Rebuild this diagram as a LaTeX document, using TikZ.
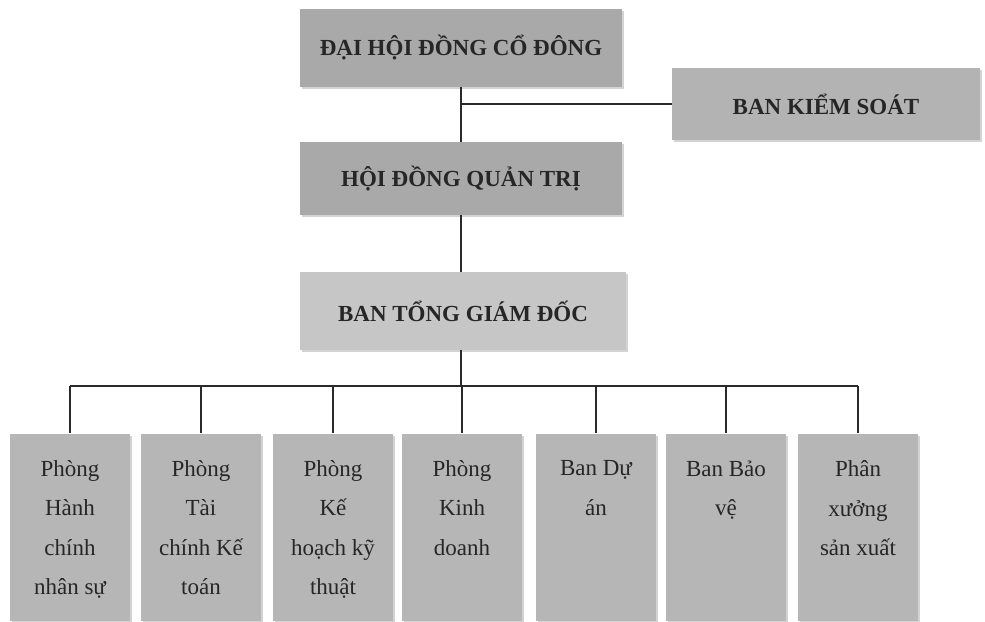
\documentclass[tikz,border=0pt]{standalone}
\usepackage{fontspec}
\setmainfont{Liberation Serif}
\usetikzlibrary{shadows}
\definecolor{topgray}{HTML}{A9A9A9}
\definecolor{midgray}{HTML}{B3B3B3}
\definecolor{lightgray2}{HTML}{C6C6C6}
\definecolor{botgray}{HTML}{B6B6B6}
\definecolor{linecol}{HTML}{2A2A2A}
\tikzset{
  boxbase/.style={rectangle, inner sep=0pt, draw=none,
    drop shadow={shadow xshift=2pt, shadow yshift=-2pt, opacity=0.35, fill=gray}},
  bigbox/.style={boxbase, font=\fontsize{23}{27}\selectfont\bfseries, text=black!85},
  smallbox/.style={boxbase, fill=botgray, minimum width=120pt, minimum height=187pt},
  smalltext/.style={anchor=north, inner sep=0pt, align=center,
    font=\fontsize{23}{39.5}\selectfont, text=black!85},
  conn/.style={draw=linecol, line width=1.4pt}
}
\begin{document}
\begin{tikzpicture}[x=1pt, y=-1pt]
\useasboundingbox (0,0) rectangle (985,621);
% top boxes
\node[bigbox, fill=topgray, minimum width=322pt, minimum height=78pt] (dh) at (461,48) {ĐẠI HỘI ĐỒNG CỔ ĐÔNG};
\node[bigbox, fill=midgray, minimum width=308pt, minimum height=72pt] (bks) at (826,104) {BAN KIỂM SOÁT};
\node[bigbox, fill=topgray, minimum width=322pt, minimum height=73pt] (hd) at (461,178.5) {HỘI ĐỒNG QUẢN TRỊ};
\node[bigbox, fill=lightgray2, minimum width=326pt, minimum height=78pt] (bt) at (463,311) {BAN TỔNG GIÁM ĐỐC};
% bottom boxes
\node[smallbox] (b1) at (70,527) {};
\node[smallbox] (b2) at (201,527) {};
\node[smallbox] (b3) at (333,527) {};
\node[smallbox] (b4) at (462,527) {};
\node[smallbox] (b5) at (596,527) {};
\node[smallbox] (b6) at (726,527) {};
\node[smallbox] (b7) at (858,527) {};
\node[smalltext] (t1) at ([yshift=-27pt]b1.north) {Phòng\\Hành\\chính\\nhân sự};
\node[smalltext] (t2) at ([yshift=-27pt]b2.north) {Phòng\\Tài\\chính Kế\\toán};
\node[smalltext] (t3) at ([yshift=-27pt]b3.north) {Phòng\\Kế\\hoạch kỹ\\thuật};
\node[smalltext] (t4) at ([yshift=-27pt]b4.north) {Phòng\\Kinh\\doanh};
\node[smalltext] (t5) at ([yshift=-27pt]b5.north) {Ban Dự\\án};
\node[smalltext] (t6) at ([yshift=-27pt]b6.north) {Ban Bảo\\vệ};
\node[smalltext] (t7) at ([yshift=-27pt]b7.north) {Phân\\xưởng\\sản xuất};
% connectors
\coordinate (bus) at (461,386);
\draw[conn] (dh.south) -- (hd.north);
\draw[conn] (bks.west) -- (bks.west -| dh.south);
\draw[conn] (hd.south) -- (hd.south |- bt.north);
\draw[conn] (hd.south |- bt.south) -- (bus);
\draw[conn] (b1.north |- bus) -- (b7.north |- bus);
\foreach \b in {b1,b2,b3,b4,b5,b6,b7}{
  \draw[conn] (\b.north |- bus) -- (\b.north);
}
\end{tikzpicture}
\end{document}
